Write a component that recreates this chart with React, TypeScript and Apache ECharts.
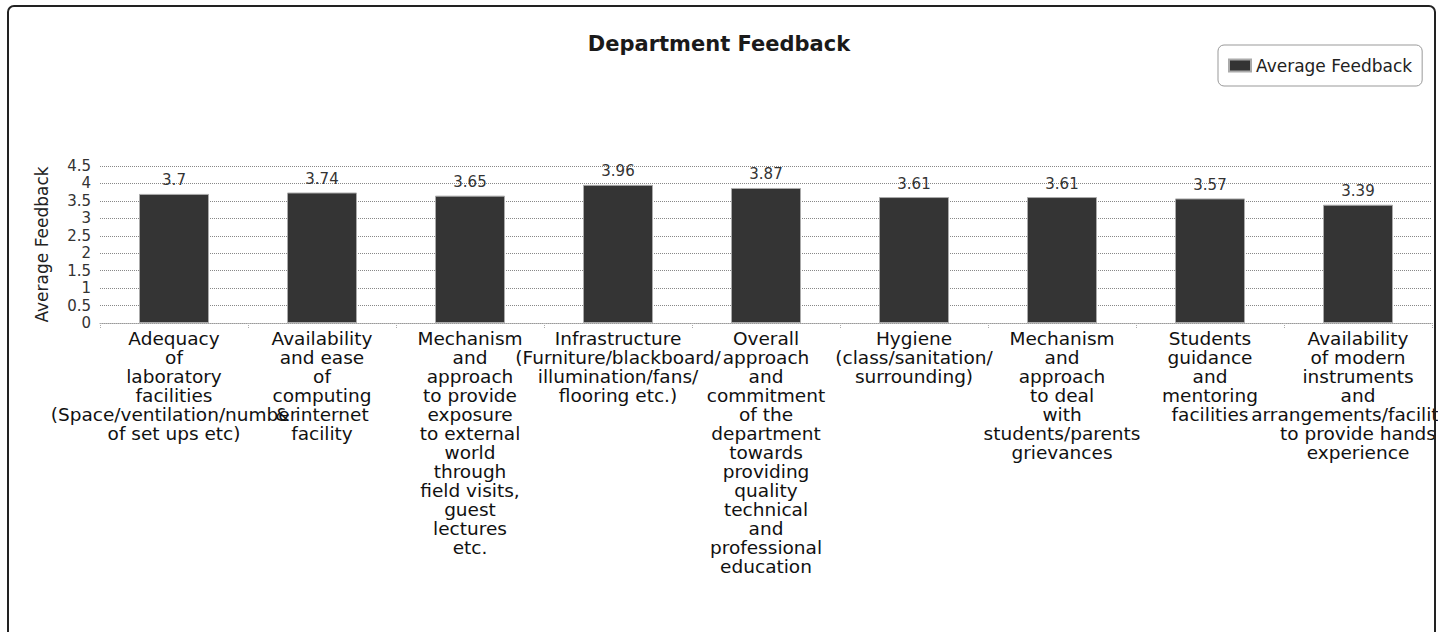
import React, { useEffect, useRef } from "react";
import * as echarts from "echarts";

const chartTitle = "Department Feedback";
const seriesName = "Average Feedback";
const yAxisName = "Average Feedback";

const categories = [
  "Adequacy\nof\nlaboratory\nfacilities\n(Space/ventilation/number\nof set ups etc)",
  "Availability\nand ease\nof\ncomputing\n& internet\nfacility",
  "Mechanism\nand\napproach\nto provide\nexposure\nto external\nworld\nthrough\nfield visits,\nguest\nlectures\netc.",
  "Infrastructure\n(Furniture/blackboard/\nillumination/fans/\nflooring etc.)",
  "Overall\napproach\nand\ncommitment\nof the\ndepartment\ntowards\nproviding\nquality\ntechnical\nand\nprofessional\neducation",
  "Hygiene\n(class/sanitation/\nsurrounding)",
  "Mechanism\nand\napproach\nto deal\nwith\nstudents/parents\ngrievances",
  "Students\nguidance\nand\nmentoring\nfacilities",
  "Availability\nof modern\ninstruments\nand\narrangements/facilities\nto provide hands\nexperience",
];

const values = [3.7, 3.74, 3.65, 3.96, 3.87, 3.61, 3.61, 3.57, 3.39];

const yMin = 0;
const yMax = 4.5;
const yStep = 0.5;

export default function App() {
  const ref = useRef<HTMLDivElement>(null);

  useEffect(() => {
    if (!ref.current) return;
    const chart = echarts.init(ref.current, undefined, { renderer: "svg" });
    chart.setOption({
      animation: false,
      backgroundColor: "#ffffff",
      textStyle: { fontFamily: "DejaVu Sans" },
      title: {
        text: chartTitle,
        left: "center",
        top: 28,
        textStyle: { fontSize: 21, fontWeight: "bold", color: "#1a1a1a", fontFamily: "DejaVu Sans" },
      },
      legend: {
        data: [seriesName],
        left: 1218,
        top: 45,
        icon: "rect",
        itemWidth: 22,
        itemHeight: 12,
        itemGap: 10,
        borderColor: "#999",
        borderWidth: 1,
        borderRadius: 6,
        padding: [12, 10, 12, 10],
        textStyle: { fontSize: 17, color: "#222", fontFamily: "DejaVu Sans" },
      },
      grid: { left: 100, right: 6, top: 166, bottom: 309, containLabel: false, outerBoundsMode: "none" },
      xAxis: {
        type: "category",
        data: categories,
        axisLine: { show: true, lineStyle: { color: "#999", type: "dotted", width: 1 } },
        axisTick: { show: true, length: 5, lineStyle: { color: "#aaa", type: "dotted" } },
        axisLabel: {
          interval: 0,
          fontSize: 18.5,
          lineHeight: 19,
          color: "#111",
          margin: 6,
          fontFamily: "DejaVu Sans",
        },
      },
      yAxis: {
        type: "value",
        min: yMin,
        max: yMax,
        interval: yStep,
        name: yAxisName,
        nameLocation: "middle",
        nameGap: 50,
        nameTextStyle: { fontSize: 17, color: "#222", fontFamily: "DejaVu Sans" },
        axisLine: { show: false },
        axisTick: { show: false },
        axisLabel: { fontSize: 15, color: "#333", margin: 9, fontFamily: "DejaVu Sans" },
        splitLine: { show: true, lineStyle: { color: "#888", type: "dotted", width: 1 } },
      },
      series: [
        {
          name: seriesName,
          type: "bar",
          data: values,
          barWidth: 70,
          itemStyle: { color: "#343434", borderColor: "#aaa", borderWidth: 1 },
          label: {
            show: true,
            position: "top",
            distance: 6,
            fontSize: 15,
            color: "#333",
            fontFamily: "DejaVu Sans",
          },
        },
      ],
      graphic: [
        {
          type: "rect",
          silent: true,
          z: 100,
          shape: { x: 8, y: 6, width: 1427, height: 700, r: 6 },
          style: { fill: "none", stroke: "#222", lineWidth: 2 },
        },
      ],
    });
    return () => chart.dispose();
  }, []);

  return (
    <div
      ref={ref}
      style={{ position: "fixed", left: 0, top: 0, width: 1438, height: 632, overflow: "hidden", background: "#fff" }}
    />
  );
}
